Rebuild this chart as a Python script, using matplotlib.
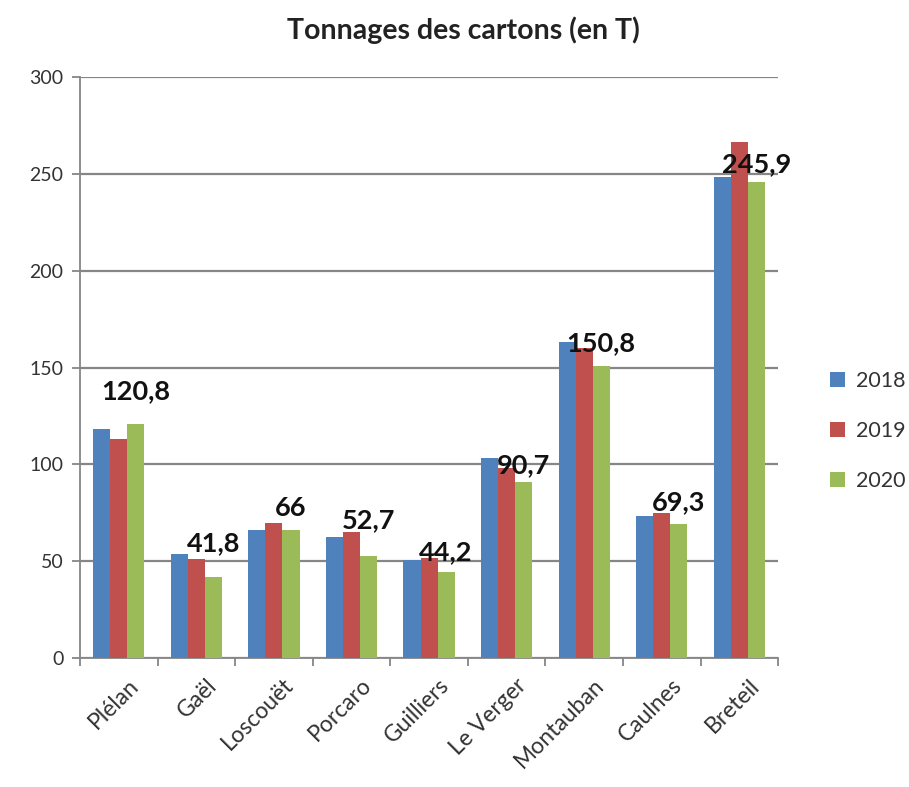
# Tonnages des cartons - bar chart
import numpy as np
import matplotlib
matplotlib.use("Agg")
import matplotlib.pyplot as plt

# Data
communes = ["Plélan", "Gaël", "Loscouët", "Porcaro", "Guilliers",
            "Le Verger", "Montauban", "Caulnes", "Breteil"]
t2018 = [118, 53.7, 66, 62.6, 50.6, 103.5, 163, 73.5, 248.5]
t2019 = [113, 51, 69.5, 65.2, 51.6, 98, 160, 75, 266.5]
t2020 = [120.8, 41.8, 66, 52.7, 44.2, 90.7, 150.8, 69.3, 245.9]
labels2020 = ["120,8", "41,8", "66", "52,7", "44,2", "90,7", "150,8", "69,3", "245,9"]
years = ["2018", "2019", "2020"]

colors = ["#4F81BD", "#C0504D", "#9BBB59"]
label_gap = [15, 16, 7, 17, 6, 4, 8, 7, 4]  # points above the green bar
grid_col = "#868686"

plt.rcParams['font.family'] = ['Lato', 'DejaVu Sans']

fig = plt.figure(figsize=(9.09, 7.87), dpi=100)
ax = fig.add_axes([0.088, 0.164, 0.768, 0.738])

x = np.arange(len(communes))
w = 0.22
series = [t2018, t2019, t2020]
for i, (vals, yr) in enumerate(zip(series, years)):
    ax.bar(x + (i - 1) * w, vals, w, color=colors[i], label=yr, zorder=3)

# data labels on 2020 bars
for xi, v, txt, gap in zip(x, t2020, labels2020, label_gap):
    ax.annotate(txt, (xi + w, v), xytext=(0, gap), textcoords="offset points",
                ha="center", va="bottom", fontsize=19.5, fontweight="bold",
                color="#111111", zorder=5)

ax.set_xlim(-0.5, len(communes) - 0.5)
ax.set_ylim(0, 300)
ax.set_yticks(np.arange(0, 301, 50))
ax.yaxis.grid(True, color=grid_col, linewidth=1.6, zorder=0)
ax.set_axisbelow(True)

for s in ["top", "right"]:
    ax.spines[s].set_visible(False)
for s in ["left", "bottom"]:
    ax.spines[s].set_color(grid_col)
    ax.spines[s].set_linewidth(1.3)

ax.set_xticks(x + 0.12)
ax.set_xticklabels(communes, rotation=45, ha="right", rotation_mode="anchor",
                   fontsize=16.5, color="#333333")
ax.set_xticks(np.arange(-0.5, len(communes)), minor=True)
ax.tick_params(axis="x", which="major", length=0, pad=12)
ax.tick_params(axis="x", which="minor", length=6, color=grid_col, width=1.3)
ax.tick_params(axis="y", length=6, color=grid_col, width=1.3, labelsize=14,
               labelcolor="#333333", pad=6)

fig.text(0.51, 0.962, "Tonnages des cartons (en T)", fontsize=20.5,
         fontweight="bold", color="#222222", ha="center", va="center")

fig.legend(loc="center left", bbox_to_anchor=(0.892, 0.452), frameon=False,
           fontsize=15.5, handlelength=0.7, handleheight=0.7, handletextpad=0.5,
           labelspacing=1.4, labelcolor="#333333")

fig.savefig("out.png", dpi=100)
